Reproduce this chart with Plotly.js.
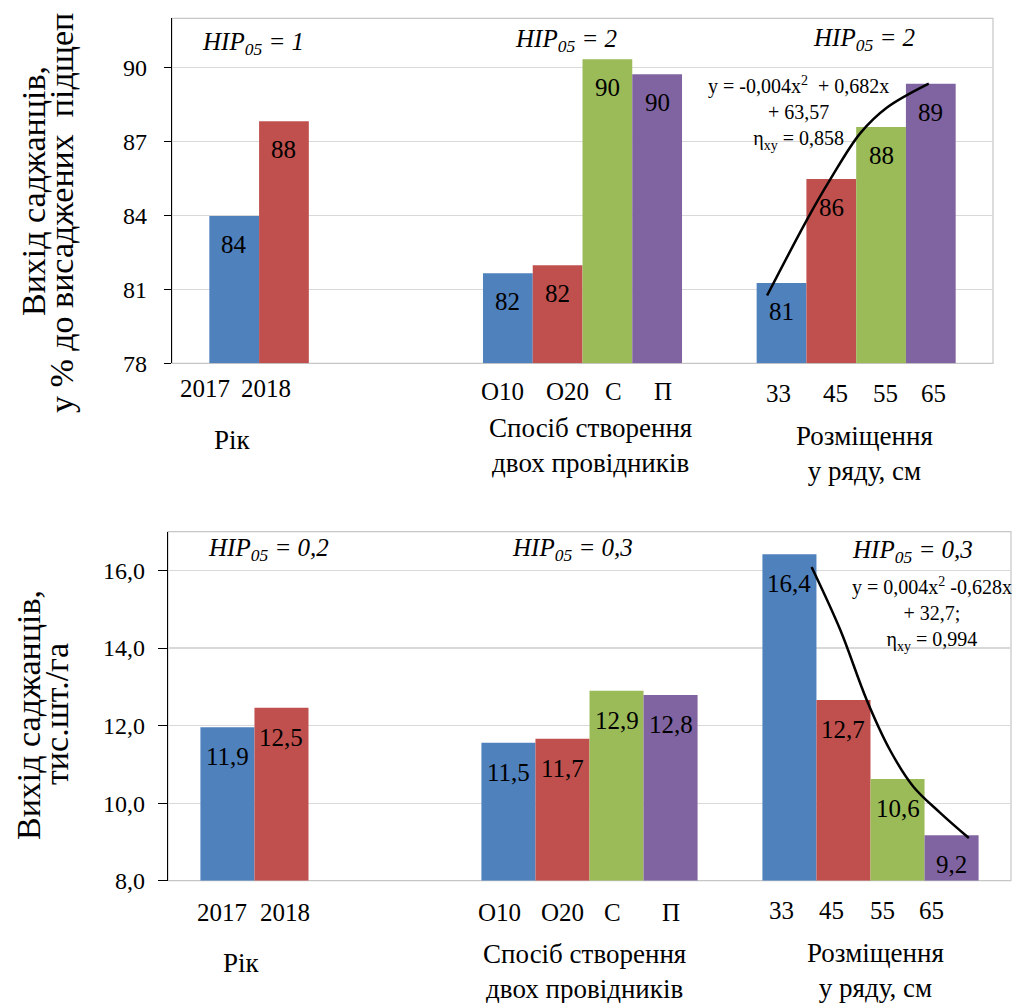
<!DOCTYPE html>
<html><head><meta charset="utf-8">
<script src="https://cdn.plot.ly/plotly-3.0.1.min.js"></script>
<style>html,body{margin:0;padding:0;background:#fff}#chart{width:1024px;height:1003px}</style>
</head><body><div id="chart"></div><script>
// ---------------- data ----------------
const groupNames = ['Рік', 'Спосіб створення\nдвох провідників', 'Розміщення\nу ряду, см'];
const catYear = ['2017', '2018'];
const catMethod = ['О10', 'О20', 'С', 'П'];
const catSpacing = ['33', '45', '55', '65'];

// top chart: output, % of planted rootstocks
const pctYear = [83.98, 87.82];
const pctMethod = [81.65, 81.98, 90.34, 89.73];
const pctSpacing = [81.26, 85.48, 87.59, 89.34];
const pctYearLbl = ['84', '88'];
const pctMethodLbl = ['82', '82', '90', '90'];
const pctSpacingLbl = ['81', '86', '88', '89'];
const hipTop = ['1', '2', '2'];

// bottom chart: output, thousand pcs/ha
const yldYear = [11.96, 12.46];
const yldMethod = [11.56, 11.66, 12.90, 12.79];
const yldSpacing = [16.42, 12.66, 10.62, 9.17];
const yldYearLbl = ['11,9', '12,5'];
const yldMethodLbl = ['11,5', '11,7', '12,9', '12,8'];
const yldSpacingLbl = ['16,4', '12,7', '10,6', '9,2'];
const hipBot = ['0,2', '0,3', '0,3'];

// trend curves: position in category slots from first "33" bar, value
const trendTopPos = [-0.29, 0.51, 0.97, 1.58, 2.12, 2.96];
const trendTopVal = [80.75, 83.82, 85.43, 87.33, 88.38, 89.35];
const trendBotPos = [0.41, 0.94, 1.43, 1.86, 2.29, 2.79, 3.32];
const trendBotVal = [16.09, 14.47, 12.66, 11.37, 10.43, 9.75, 9.10];

const eqTop = ['y = -0,004x<sup>2</sup>  + 0,682x', '+ 63,57', 'η<sub>xy</sub> = 0,858'];
const eqBot = ['y = 0,004x<sup>2</sup> -0,628x', '+ 32,7;', 'η<sub>xy</sub> = 0,994'];

const titleTop = ['Вихід саджанців,', 'у % до висаджених  підщеп'];
const titleBot = ['Вихід саджанців,', 'тис.шт./га'];

// ---------------- styling / layout ----------------
const seriesColors = ['#4F81BD', '#C0504D', '#9BBB59', '#8064A2'];
const FONT = 'Liberation Serif, Times New Roman, serif';
const W = 1024, H = 1003;
const px = x => x / W;
const py = y => 1 - y / H;

const panels = [
  {
    xa: 'x', ya: 'y', gap: 1.5, base: 78,
    cats: [catYear, catMethod, catSpacing],
    vals: [pctYear, pctMethod, pctSpacing],
    lbls: [pctYearLbl, pctMethodLbl, pctSpacingLbl],
    hip: hipTop, hipPos: [[253, 43], [566, 41], [864, 40]],
    tickRow: [388, 391, 393],
    tickShift: [[-29, -18], [-5, 10, 6, 6], [-3, 4, 4, 3]],
    namePos: [[232, 440], [590, 445.5], [864, 453.5]],
    trendPos: trendTopPos, trendVal: trendTopVal,
    eq: eqTop, eqPos: [798, 113],
    title: titleTop, titlePos: [[34, 318], [61, 415]],
    lblShift: -13
  },
  {
    xa: 'x2', ya: 'y2', gap: 1.2, base: 8,
    cats: [catYear, catMethod, catSpacing],
    vals: [yldYear, yldMethod, yldSpacing],
    lbls: [yldYearLbl, yldMethodLbl, yldSpacingLbl],
    hip: hipBot, hipPos: [[268, 549], [572, 549], [912, 551]],
    tickRow: [912, 912, 910],
    tickShift: [[-5, 4], [-9, 0, -4, 0], [-8, -12, -15, -20]],
    namePos: [[241, 963], [584, 971], [875, 970]],
    trendPos: trendBotPos, trendVal: trendBotVal,
    eq: eqBot, eqPos: [932, 614],
    title: titleBot, titlePos: [[28, 842], [56, 787]],
    lblShift: -14
  }
];

const traces = [];
const annotations = [];
const shapes = [];

panels.forEach(p => {
  const G = 4 + p.gap;
  const center = (g, i) => p.gap / 2 + G * g + i + 0.5;
  const bx = [], by = [], bc = [];
  p.vals.forEach((arr, g) => {
    arr.forEach((v, i) => {
      const xc = center(g, i);
      bx.push(xc); by.push(v - p.base); bc.push(seriesColors[i]);
      annotations.push({
        xref: p.xa, yref: p.ya, x: xc, y: v, yanchor: 'top', xanchor: 'center',
        yshift: p.lblShift, text: p.lbls[g][i], showarrow: false,
        font: {family: FONT, size: 25, color: '#000'}
      });
      annotations.push({
        xref: p.xa, yref: 'paper', x: xc, y: py(p.tickRow[g]), xshift: p.tickShift[g][i],
        xanchor: 'center', yanchor: 'middle', text: p.cats[g][i], showarrow: false,
        font: {family: FONT, size: 25, color: '#000'}
      });
    });
  });
  traces.push({
    type: 'bar', x: bx, y: by, base: p.base, width: 1, xaxis: p.xa, yaxis: p.ya,
    marker: {color: bc, line: {width: 0}}, showlegend: false, hoverinfo: 'skip'
  });

  // trend line
  traces.push({
    type: 'scatter', mode: 'lines', xaxis: p.xa, yaxis: p.ya,
    x: p.trendPos.map(t => center(2, 0) + t), y: p.trendVal,
    line: {color: '#000', width: 2.5, shape: 'spline', smoothing: 1},
    showlegend: false, hoverinfo: 'skip'
  });

  // НІР labels
  p.hip.forEach((h, g) => {
    annotations.push({
      xref: 'paper', yref: 'paper', x: px(p.hipPos[g][0]), y: py(p.hipPos[g][1]),
      xanchor: 'center', yanchor: 'middle', showarrow: false,
      text: '<i>НІР<sub>05</sub> = ' + h + '</i>',
      font: {family: FONT, size: 25, color: '#000'}
    });
  });

  // group names
  p.namePos.forEach((np, g) => {
    annotations.push({
      xref: 'paper', yref: 'paper', x: px(np[0]), y: py(np[1]),
      xanchor: 'center', yanchor: 'middle', showarrow: false, align: 'center',
      text: groupNames[g].split('\n').join('<br>'),
      font: {family: FONT, size: 27, color: '#000'}
    });
  });

  // equation
  annotations.push({
    xref: 'paper', yref: 'paper', x: px(p.eqPos[0]), y: py(p.eqPos[1]),
    xanchor: 'center', yanchor: 'middle', showarrow: false, align: 'center',
    text: p.eq.join('<br>'), font: {family: FONT, size: 20, color: '#000'}
  });

  // axis title lines (rotated)
  p.title.forEach((t, k) => {
    annotations.push({
      xref: 'paper', yref: 'paper', x: px(p.titlePos[k][0]), y: py(p.titlePos[k][1]),
      xanchor: 'center', yanchor: 'bottom', textangle: -90, showarrow: false, text: t,
      font: {family: FONT, size: 34, color: '#000'}
    });
  });

  // frame
  shapes.push({
    type: 'rect', xref: p.xa + ' domain', yref: p.ya + ' domain', x0: 0, x1: 1, y0: 0, y1: 1,
    line: {color: '#C6C6C6', width: 1.2}, fillcolor: 'rgba(0,0,0,0)', layer: 'below'
  });
});

const yCommon = {
  showgrid: true, gridcolor: '#D9D9D9', gridwidth: 1.2, zeroline: false,
  showline: true, linecolor: '#000', linewidth: 1.2, ticks: 'outside', tickcolor: '#000',
  tickfont: {family: FONT, size: 24, color: '#000'}, layer: 'above traces', fixedrange: true
};
const xCommon = {showgrid: false, zeroline: false, showticklabels: false, ticks: '', showline: false,
  tickmode: 'array', tickvals: [], fixedrange: true};

const layout = {
  width: W, height: H, margin: {l: 0, r: 0, t: 0, b: 0},
  paper_bgcolor: '#fff', plot_bgcolor: '#fff', separators: ',.',
  showlegend: false,
  xaxis: Object.assign({}, xCommon, {domain: [px(172), px(993)], range: [0, 16.5], anchor: 'y'}),
  yaxis: Object.assign({}, yCommon, {domain: [py(363.3), py(18.3)], range: [78, 92], tick0: 78, dtick: 3,
    ticklen: 7, ticklabelstandoff: 12, anchor: 'x'}),
  xaxis2: Object.assign({}, xCommon, {domain: [px(168), px(1011)], range: [0, 15.6], anchor: 'y2'}),
  yaxis2: Object.assign({}, yCommon, {domain: [py(880.7), py(531.7)], range: [8, 17], tick0: 8, dtick: 2,
    tickformat: '.1f', ticklen: 9, ticklabelstandoff: 8, anchor: 'x2'}),
  annotations: annotations, shapes: shapes
};

Plotly.newPlot('chart', traces, layout, {staticPlot: true, displayModeBar: false});
</script></body></html>
